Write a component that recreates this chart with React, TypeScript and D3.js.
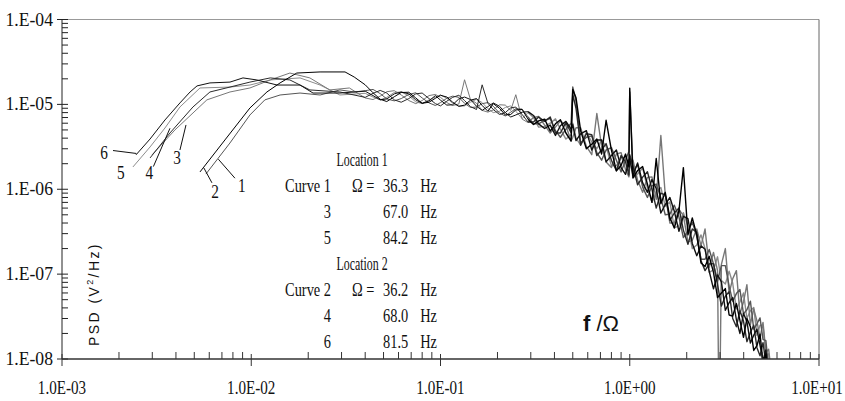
import * as d3 from "d3";
import React from "react";

// tick labels
const xTickValues = [1e-3, 1e-2, 1e-1, 1e0, 1e1];
const xTickLabels = ["1.0E-03", "1.0E-02", "1.0E-01", "1.0E+00", "1.0E+01"];
const yTickValues = [1e-8, 1e-7, 1e-6, 1e-5, 1e-4];
const yTickLabels = ["1.E-08", "1.E-07", "1.E-06", "1.E-05", "1.E-04"];

// legend text
const loc1Curves = ["Curve 1", "3", "5"];
const loc1Omega = ["36.3", "67.0", "84.2"];
const loc2Curves = ["Curve 2", "4", "6"];
const loc2Omega = ["36.2", "68.0", "81.5"];

// shared frequency grid (f/Omega) for the noisy part of the spectra
const hiFreq = [
  0.04, 0.044, 0.048, 0.052, 0.057, 0.062, 0.068, 0.074, 0.08, 0.087,
  0.094, 0.1, 0.108, 0.116, 0.125, 0.134, 0.144, 0.155, 0.166, 0.178,
  0.19, 0.205, 0.22, 0.235, 0.25, 0.27, 0.29, 0.31, 0.33, 0.355,
  0.38, 0.405, 0.43, 0.46, 0.49, 0.5, 0.52, 0.55, 0.59, 0.63,
  0.67, 0.71, 0.75, 0.8, 0.85, 0.9, 0.95, 0.99, 1.0, 1.04,
  1.1, 1.17, 1.24, 1.31, 1.38, 1.46, 1.54, 1.63, 1.72, 1.82,
  1.92, 2.03, 2.14, 2.26, 2.38, 2.5, 2.63, 2.77, 2.91, 3.05,
  3.2, 3.35, 3.5, 3.66, 3.82, 3.99, 4.16, 4.34, 4.52, 4.7,
  4.88, 5.06, 5.24, 5.42, 5.6,
];

// low frequency part, [f/Omega, PSD]
const curve1Low = [
  [5.76e-3, 1.51e-6], [7.72e-3, 3.51e-6], [9.84e-3, 7.5e-6], [1.18e-2, 1.13e-5],
  [1.42e-2, 1.29e-5], [1.81e-2, 1.36e-5], [2.31e-2, 1.29e-5], [2.94e-2, 1.48e-5],
  [3.5e-2, 1.4e-5],
];
const curve2Low = [
  [5.36e-3, 1.6e-6], [7.26e-3, 3.81e-6], [9.84e-3, 9.07e-6], [1.21e-2, 1.4e-5],
  [1.42e-2, 1.79e-5], [1.74e-2, 2.34e-5], [2.31e-2, 2.41e-5], [3.13e-2, 2.41e-5],
  [3.5e-2, 2.1e-5],
];
const curve3Low = [
  [2.99e-3, 2.54e-6], [3.95e-3, 4.99e-6], [5.83e-3, 1.13e-5], [7.72e-3, 1.4e-5],
  [9.84e-3, 1.56e-5], [1.26e-2, 1.94e-5], [1.6e-2, 2.34e-5], [2.04e-2, 2.05e-5],
  [2.6e-2, 1.48e-5], [3.3e-2, 1.56e-5],
];
const curve4Low = [
  [2.92e-3, 2.34e-6], [3.72e-3, 4.6e-6], [4.92e-3, 9.32e-6], [6.05e-3, 1.4e-5],
  [7.72e-3, 1.6e-5], [9.84e-3, 1.83e-5], [1.26e-2, 2.05e-5], [1.6e-2, 1.94e-5],
  [2.04e-2, 1.48e-5], [2.94e-2, 1.4e-5],
];
const curve5Low = [
  [2.37e-3, 1.83e-6], [2.92e-3, 3.15e-6], [3.5e-3, 5.27e-6], [4.2e-3, 9.32e-6],
  [5.36e-3, 1.56e-5], [7.72e-3, 1.6e-5], [9.84e-3, 1.69e-5], [1.26e-2, 1.94e-5],
  [1.81e-2, 2.05e-5], [2.31e-2, 1.69e-5], [2.94e-2, 1.29e-5],
];
const curve6Low = [
  [2.46e-3, 2.54e-6], [2.92e-3, 3.91e-6], [3.5e-3, 6.55e-6], [4.2e-3, 1.04e-5],
  [4.75e-3, 1.4e-5], [5.17e-3, 1.65e-5], [6.05e-3, 1.79e-5], [7.72e-3, 1.83e-5],
  [9.04e-3, 2.05e-5], [1.07e-2, 1.94e-5], [1.37e-2, 1.69e-5], [1.81e-2, 1.69e-5],
  [2.12e-2, 1.36e-5], [2.94e-2, 1.36e-5],
];

// PSD on hiFreq
const curve1Hi = [
  1.45e-5, 1.5e-5, 1.34e-5, 1.16e-5, 1.1e-5, 1.17e-5, 1.31e-5, 1.37e-5, 1.19e-5, 1.04e-5,
  9.7e-6, 1.05e-5, 1.18e-5, 1.25e-5, 1.21e-5, 1.03e-5, 9.2e-6, 9.3e-6, 1.02e-5, 1.05e-5,
  9.5e-6, 7.9e-6, 7.3e-6, 8.1e-6, 8.9e-6, 8.8e-6, 7.1e-6, 5.9e-6, 5.9e-6, 6.5e-6,
  6.8e-6, 4.9e-6, 4.1e-6, 5.1e-6, 6.0e-6, 1.6e-5, 1.1e-5, 3.5e-6, 4.1e-6, 4.25e-6,
  2.7e-6, 2.2e-6, 2.9e-6, 3.1e-6, 2.2e-6, 1.6e-6, 2.2e-6, 2.8e-6, 1.4e-5, 1.6e-6,
  1.96e-6, 1.06e-6, 8.0e-7, 1.1e-6, 1.15e-6, 7.9e-7, 5.0e-7, 5.1e-7, 6.5e-7, 4.7e-7,
  2.7e-7, 3.2e-7, 4.1e-7, 2.8e-7, 1.5e-7, 1.5e-7, 1.95e-7, 1.32e-7, 8.3e-8, 1.26e-7,
  1.26e-7, 7.2e-8, 4.8e-8, 5.9e-8, 6.6e-8, 3.4e-8, 3.8e-8, 4.8e-8, 2.25e-8, 2.6e-8,
  3.05e-8, 1.7e-8, 1.65e-8, 7.7e-9, 6.4e-9,
];
const curve2Hi = [
  1.7e-5, 1.37e-5, 1.15e-5, 1.08e-5, 1.23e-5, 1.38e-5, 1.39e-5, 1.19e-5, 1.03e-5, 1.06e-5,
  1.18e-5, 1.28e-5, 1.22e-5, 1.06e-5, 9.5e-6, 9.8e-6, 1.12e-5, 1.17e-5, 9.7e-6, 8.3e-6,
  1.02e-5, 9.0e-6, 7.5e-6, 7.6e-6, 8.6e-6, 8.7e-6, 6.7e-6, 5.8e-6, 6.4e-6, 6.7e-6,
  4.85e-6, 5.9e-6, 6.6e-6, 4.6e-6, 3.7e-6, 1.5e-5, 1.2e-5, 4.9e-6, 3.0e-6, 3.4e-6,
  3.9e-6, 2.6e-6, 6.5e-6, 2.9e-6, 1.65e-6, 1.9e-6, 2.6e-6, 1.84e-6, 1.55e-5, 1.36e-6,
  1.66e-6, 1.85e-6, 1.15e-6, 7.0e-7, 2.3e-6, 6.75e-7, 9.2e-7, 4.6e-7, 3.5e-7, 5.6e-7,
  1.8e-6, 2.9e-7, 4.6e-7, 2.9e-7, 1.35e-7, 1.23e-7, 1.62e-7, 1.05e-7, 5.3e-8, 6.0e-8,
  6.75e-8, 3.3e-8, 3.2e-8, 4.5e-8, 2.85e-8, 1.8e-8, 3.0e-8, 2.4e-8, 1.26e-8, 1.44e-8,
  1.96e-8, 9.0e-9, 1.14e-8, 5.3e-9, 3.5e-9,
];
const curve3Hi = [
  1.19e-5, 1.14e-5, 1.25e-5, 1.41e-5, 1.45e-5, 1.29e-5, 1.11e-5, 1.02e-5, 1.11e-5, 1.27e-5,
  1.31e-5, 1.21e-5, 1.05e-5, 9.7e-6, 1.01e-5, 1.95e-5, 1.14e-5, 1.03e-5, 8.5e-6, 8.1e-6,
  8.6e-6, 9.9e-6, 9.8e-6, 8.5e-6, 1.3e-5, 6.7e-6, 6.1e-6, 7.0e-6, 7.2e-6, 5.7e-6,
  4.6e-6, 5.4e-6, 6.4e-6, 5.6e-6, 3.7e-6, 4.1e-6, 5.3e-6, 5.3e-6, 3.2e-6, 2.55e-6,
  7.8e-6, 3.2e-6, 2.1e-6, 1.8e-6, 2.6e-6, 2.7e-6, 1.7e-6, 1.4e-6, 1.9e-6, 2.2e-6,
  1.28e-6, 9.2e-7, 1.38e-6, 1.4e-6, 7.6e-7, 4.3e-6, 8.6e-7, 4.0e-7, 4.0e-7, 5.8e-7,
  4.9e-7, 2.4e-7, 2.5e-7, 3.4e-7, 2.15e-7, 3.4e-7, 1.2e-7, 1.8e-7, 1.1e-7, 1.3e-7,
  2.0e-7, 6.0e-8, 8.8e-8, 1.1e-7, 3.4e-8, 4.7e-8, 7.5e-8, 2.55e-8, 3.9e-8, 2.8e-8,
  1.76e-8, 2.7e-8, 1.2e-8, 1.3e-8, 6.8e-9,
];
const curve3Dropout = [[2.97, 1e-9]];
const curve4Hi = [
  1.21e-5, 1.35e-5, 1.46e-5, 1.36e-5, 1.13e-5, 1.06e-5, 1.17e-5, 1.33e-5, 1.36e-5, 1.17e-5,
  1.02e-5, 9.6e-6, 1.09e-5, 1.21e-5, 1.28e-5, 1.11e-5, 9.4e-6, 8.7e-6, 1.7e-5, 1.03e-5,
  8.7e-6, 7.6e-6, 8.0e-6, 9.1e-6, 9.3e-6, 7.6e-6, 6.2e-6, 6.2e-6, 7.1e-6, 6.3e-6,
  7.1e-6, 4.6e-6, 4.6e-6, 6.1e-6, 4.65e-6, 1.3e-5, 9.0e-6, 3.3e-6, 4.5e-6, 4.4e-6,
  2.5e-6, 2.9e-6, 3.45e-6, 2.2e-6, 1.65e-6, 2.5e-6, 2.1e-6, 1.47e-6, 2.55e-6, 1.87e-6,
  1.13e-6, 1.39e-6, 1.61e-6, 1.0e-6, 6.0e-7, 9.0e-7, 8.6e-7, 4.3e-7, 5.25e-7, 6.0e-7,
  3.3e-7, 2.25e-7, 3.4e-7, 3.1e-7, 1.44e-7, 1.1e-7, 1.32e-7, 1.33e-7, 7.5e-8, 4.2e-8,
  5.5e-8, 6.2e-8, 3.0e-8, 2.4e-8, 3.7e-8, 2.8e-8, 1.6e-8, 2.05e-8, 2.5e-8, 1.36e-8,
  1.09e-8, 1.56e-8, 9.0e-9, 8.0e-9, 3.8e-9,
];
const curve5Hi = [
  1.35e-5, 1.22e-5, 1.13e-5, 1.21e-5, 1.38e-5, 1.4e-5, 1.26e-5, 1.07e-5, 1.02e-5, 1.13e-5,
  1.22e-5, 1.29e-5, 1.18e-5, 1.03e-5, 9.5e-6, 9.6e-6, 1.06e-5, 1.15e-5, 1.05e-5, 8.9e-6,
  8.0e-6, 8.3e-6, 9.2e-6, 9.6e-6, 8.3e-6, 6.8e-6, 8.0e-6, 7.0e-6, 5.4e-6, 5.5e-6,
  6.0e-6, 6.75e-6, 5.1e-6, 3.9e-6, 4.4e-6, 6.0e-6, 4.0e-6, 3.3e-6, 4.7e-6, 3.6e-6,
  3.0e-6, 3.8e-6, 3.2e-6, 1.9e-6, 1.9e-6, 2.3e-6, 2.4e-6, 1.56e-6, 2.4e-6, 1.36e-6,
  1.51e-6, 1.78e-6, 1.04e-6, 7.0e-7, 9.4e-7, 1.05e-6, 6.3e-7, 7.1e-7, 3.5e-7, 3.7e-7,
  5.3e-7, 3.7e-7, 2.0e-7, 2.2e-7, 2.9e-7, 2.0e-7, 1.05e-7, 1.12e-7, 1.6e-7, 8.4e-8,
  7.65e-8, 1.08e-7, 7.8e-8, 3.9e-8, 4.7e-8, 6.0e-8, 3.0e-8, 3.7e-8, 4.05e-8, 1.9e-8,
  2.5e-8, 2.5e-8, 1.1e-8, 1.15e-8, 6.4e-9,
];
const curve6Hi = [
  1.43e-5, 1.27e-5, 1.13e-5, 1.16e-5, 1.33e-5, 1.4e-5, 1.33e-5, 1.13e-5, 1.03e-5, 1.1e-5,
  1.27e-5, 1.12e-5, 9.8e-6, 9.9e-6, 1.16e-5, 1.22e-5, 1.14e-5, 9.5e-6, 8.5e-6, 9.4e-6,
  1.04e-5, 9.5e-6, 8.0e-6, 7.1e-6, 7.5e-6, 8.1e-6, 8.2e-6, 7.4e-6, 5.9e-6, 5.2e-6,
  5.7e-6, 4.3e-6, 5.6e-6, 6.3e-6, 5.1e-6, 5.75e-6, 3.75e-6, 4.5e-6, 4.9e-6, 2.9e-6,
  3.8e-6, 3.8e-6, 2.1e-6, 2.5e-6, 2.9e-6, 1.8e-6, 1.5e-6, 2.2e-6, 2.3e-6, 1.45e-6,
  2.04e-6, 1.19e-6, 9.2e-7, 1.3e-6, 1.02e-6, 5.25e-7, 6.6e-7, 8.0e-7, 5.5e-7, 3.2e-7,
  4.8e-7, 4.5e-7, 2.3e-7, 1.65e-7, 2.15e-7, 1.96e-7, 1.08e-7, 6.7e-8, 9.8e-8, 8.1e-8,
  3.75e-8, 4.6e-8, 5.3e-8, 2.9e-8, 2.0e-8, 3.45e-8, 2.75e-8, 1.54e-8, 1.9e-8, 2.25e-8,
  1.45e-8, 9.6e-9, 1.28e-8, 6.3e-9, 4.0e-9,
];

// leader lines for curve numbers: tip on curve, tail near number, in data units
const curveLabels = [
  { name: "6", tip: [2.47e-3, 2.64e-6], tail: [1.86e-3, 2.86e-6], dx: -9, dy: 2 },
  { name: "5", tip: [2.37e-3, 1.83e-6], tail: [2.37e-3, 1.83e-6], dx: -12, dy: 6 },
  { name: "4", tip: [3.72e-3, 5.23e-6], tail: [3.04e-3, 1.85e-6], dx: -4, dy: 6 },
  { name: "3", tip: [4.52e-3, 5.72e-6], tail: [4.2e-3, 2.9e-6], dx: -3, dy: 8 },
  { name: "2", tip: [5.62e-3, 1.78e-6], tail: [6.2e-3, 1.19e-6], dx: 3, dy: 9 },
  { name: "1", tip: [6.7e-3, 2.26e-6], tail: [8.2e-3, 1.35e-6], dx: 7, dy: 8 },
];

const W = 845;
const H = 401;
const plot = { left: 62, right: 819, top: 19.5, bottom: 359 };
const serif = "'Liberation Serif', 'Times New Roman', serif";
const sans = "'Liberation Sans', Arial, sans-serif";
const denseFrom = 0.3; // above this the spectra are drawn a bit heavier (dense sampling)

const join = (low, hi, extra = []) =>
  [...low, ...hiFreq.map((f, i) => [f, hi[i]]), ...extra].sort((a, b) => a[0] - b[0]);

// Location 1 (grey) drawn first, Location 2 (black) on top
const series = [
  { data: join(curve5Low, curve5Hi), color: "#8c8c8c" },
  { data: join(curve3Low, curve3Hi, curve3Dropout), color: "#777" },
  { data: join(curve1Low, curve1Hi), color: "#555" },
  { data: join(curve4Low, curve4Hi), color: "#2a2a2a" },
  { data: join(curve6Low, curve6Hi), color: "#111" },
  { data: join(curve2Low, curve2Hi), color: "#000" },
];

const T = ({ x, y, anchor = "start", size = 18, sx = 0.8, children }) => (
  <text
    transform={`translate(${x},${y}) scale(${sx},1)`}
    textAnchor={anchor}
    fontFamily={serif}
    fontSize={size}
    fill="#111"
  >
    {children}
  </text>
);

export default function App() {
  const x = d3.scaleLog().domain([1e-3, 1e1]).range([plot.left, plot.right]);
  const y = d3.scaleLog().domain([1e-8, 1e-4]).range([plot.bottom, plot.top]);

  const line = d3
    .line()
    .x((d) => x(d[0]))
    .y((d) => y(Math.max(d[1], 1e-9)));

  const xMinor = x.ticks().filter((t) => !xTickValues.some((v) => Math.abs(v - t) / v < 1e-6));
  const yMinor = y.ticks().filter((t) => !yTickValues.some((v) => Math.abs(v - t) / v < 1e-6));

  const rowY = (i) => 166 + i * 26;

  return (
    <svg width={W} height={H} style={{ position: "absolute", left: 0, top: 0, background: "#fff" }}>
      <defs>
        <clipPath id="plotClip">
          <rect x={plot.left} y={plot.top} width={plot.right - plot.left} height={plot.bottom - plot.top} />
        </clipPath>
      </defs>

      {/* frame */}
      <line x1={plot.left} x2={plot.right} y1={plot.top} y2={plot.top} stroke="#999" strokeWidth={1} />
      <line x1={plot.right} x2={plot.right} y1={plot.top} y2={plot.bottom} stroke="#666" strokeWidth={1} />

      {/* curves */}
      <g clipPath="url(#plotClip)">
        {series.map((s, i) => (
          <g key={i} fill="none" stroke={s.color} strokeLinejoin="round">
            <path d={line(s.data.filter((d) => d[0] <= denseFrom))} strokeWidth={1} />
            <path d={line(s.data.filter((d) => d[0] >= denseFrom * 0.95))} strokeWidth={1.4} />
          </g>
        ))}
      </g>

      {/* y axis */}
      <line x1={plot.left} x2={plot.left} y1={plot.top} y2={plot.bottom} stroke="#222" strokeWidth={1} />
      {yMinor.map((t) => (
        <line key={t} x1={plot.left} x2={plot.left + 6} y1={y(t)} y2={y(t)} stroke="#222" />
      ))}
      {yTickValues.map((t, i) => (
        <g key={t}>
          <line x1={plot.left - 5} x2={plot.left + 6} y1={y(t)} y2={y(t)} stroke="#222" />
          <T x={53} y={y(t) + 6} anchor="end" sx={0.98}>{yTickLabels[i]}</T>
        </g>
      ))}

      {/* x axis */}
      <line x1={plot.left} x2={plot.right} y1={plot.bottom} y2={plot.bottom} stroke="#333" strokeWidth={1.5} />
      {xMinor.map((t) => (
        <line key={t} x1={x(t)} x2={x(t)} y1={plot.bottom - 7} y2={plot.bottom} stroke="#333" />
      ))}
      {xTickValues.map((t, i) => (
        <g key={t}>
          <line x1={x(t)} x2={x(t)} y1={plot.bottom - 5} y2={plot.bottom + 7} stroke="#333" />
          <T x={i === xTickValues.length - 1 ? x(t) - 2 : x(t)} y={394} anchor="middle" sx={0.84}>
            {xTickLabels[i]}
          </T>
        </g>
      ))}

      {/* curve numbers */}
      {curveLabels.map((c) => (
        <g key={c.name}>
          <line x1={x(c.tip[0])} y1={y(c.tip[1])} x2={x(c.tail[0])} y2={y(c.tail[1])} stroke="#111" />
          <T x={x(c.tail[0]) + c.dx} y={y(c.tail[1]) + c.dy + 6} anchor="middle" sx={0.85}>{c.name}</T>
        </g>
      ))}

      {/* legend */}
      {[
        { title: "Location 1", curves: loc1Curves, omega: loc1Omega, start: 0 },
        { title: "Location 2", curves: loc2Curves, omega: loc2Omega, start: 4 },
      ].map((g) => (
        <g key={g.title}>
          <T x={362} y={rowY(g.start)} anchor="middle" sx={0.66}>{g.title}</T>
          {g.curves.map((c, i) => (
            <g key={c}>
              <T x={331} y={rowY(g.start + 1 + i)} anchor="end">{c}</T>
              {i === 0 && <T x={352} y={rowY(g.start + 1 + i)}>Ω =</T>}
              <T x={383} y={rowY(g.start + 1 + i)}>{g.omega[i]}</T>
              <T x={437} y={rowY(g.start + 1 + i)} anchor="end">Hz</T>
            </g>
          ))}
        </g>
      ))}

      {/* axis titles */}
      <text
        transform="translate(99,294) rotate(-90)"
        textAnchor="middle"
        fontFamily={sans}
        fontSize={14}
        letterSpacing={2.4}
        fill="#111"
      >
        PSD (V
        <tspan fontSize={9} dy={-6}>2</tspan>
        <tspan dy={6}>/Hz)</tspan>
      </text>
      <text x={601} y={331} textAnchor="middle" fontFamily={sans} fontSize={22} fill="#111">
        <tspan fontWeight="bold">f</tspan> /Ω
      </text>
    </svg>
  );
}
